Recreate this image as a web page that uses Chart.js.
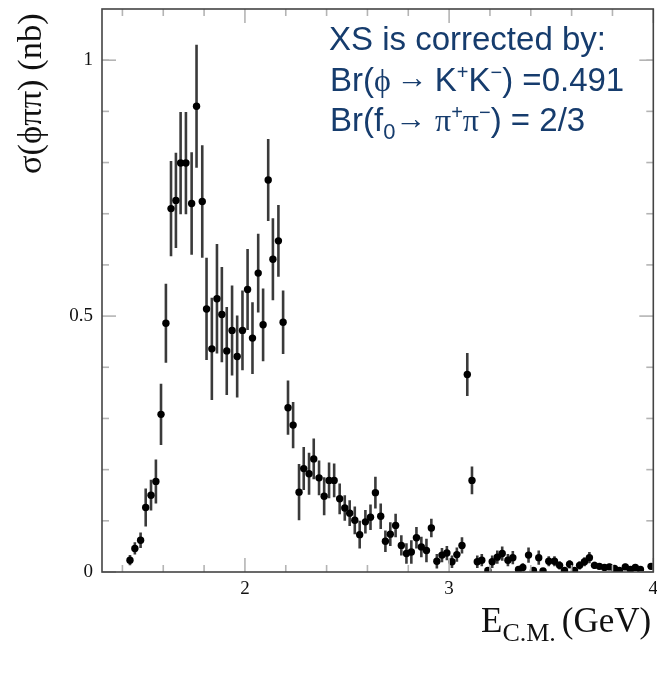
<!DOCTYPE html>
<html>
<head>
<meta charset="utf-8">
<script src="https://cdn.jsdelivr.net/npm/chart.js@4.4.1/dist/chart.umd.min.js"></script>
<style>
  html, body { margin: 0; padding: 0; background: #fff; }
  #wrap { width: 657px; height: 683px; }
</style>
</head>
<body>
<div id="wrap"><canvas id="c" width="657" height="683"></canvas></div>
<script>
// ---- data ----
const energy = [1.437,1.461,1.489,1.514,1.540,1.564,1.589,1.613,1.638,1.662,1.685,1.711,1.739,1.763,1.791,1.812,1.838,1.863,1.887,1.911,1.937,1.962,1.988,2.013,2.037,2.065,2.089,2.114,2.137,2.164,2.187,2.211,2.236,2.265,2.288,2.314,2.337,2.363,2.388,2.412,2.437,2.464,2.489,2.513,2.538,2.562,2.590,2.615,2.639,2.665,2.688,2.712,2.738,2.766,2.791,2.815,2.840,2.864,2.889,2.913,2.940,2.965,2.989,3.014,3.038,3.063,3.089,3.112,3.138,3.160,3.190,3.211,3.236,3.260,3.288,3.312,3.340,3.361,3.389,3.413,3.439,3.460,3.488,3.516,3.541,3.565,3.590,3.614,3.639,3.663,3.687,3.712,3.736,3.761,3.785,3.810,3.834,3.863,3.888,3.912,3.937,3.989];
const sigma = [0.023,0.046,0.062,0.126,0.150,0.177,0.308,0.486,0.710,0.726,0.799,0.799,0.720,0.910,0.724,0.514,0.436,0.534,0.503,0.432,0.472,0.421,0.472,0.552,0.457,0.584,0.483,0.766,0.611,0.647,0.488,0.321,0.287,0.156,0.202,0.192,0.221,0.184,0.148,0.179,0.179,0.143,0.125,0.115,0.101,0.073,0.098,0.107,0.155,0.109,0.060,0.074,0.091,0.052,0.036,0.039,0.067,0.049,0.042,0.086,0.021,0.033,0.037,0.020,0.034,0.052,0.386,0.179,0.020,0.023,0.003,0.020,0.029,0.036,0.023,0.028,0.005,0.009,0.033,0.003,0.028,0.002,0.021,0.021,0.013,0.003,0.015,0.003,0.013,0.020,0.028,0.013,0.011,0.009,0.010,0.007,0.003,0.010,0.005,0.009,0.005,0.011];
const sigmaErr = [0.010,0.012,0.015,0.037,0.030,0.043,0.060,0.077,0.093,0.093,0.100,0.100,0.100,0.120,0.110,0.100,0.100,0.107,0.093,0.086,0.088,0.080,0.078,0.079,0.070,0.077,0.071,0.080,0.080,0.070,0.062,0.053,0.045,0.055,0.042,0.041,0.040,0.034,0.037,0.035,0.033,0.030,0.025,0.025,0.027,0.027,0.023,0.025,0.031,0.025,0.021,0.023,0.023,0.020,0.020,0.023,0.021,0.020,0.023,0.018,0.014,0.014,0.014,0.012,0.014,0.016,0.042,0.027,0.012,0.012,0.006,0.012,0.013,0.014,0.012,0.013,0.006,0.008,0.015,0.006,0.014,0.005,0.010,0.010,0.008,0.005,0.008,0.005,0.008,0.009,0.011,0.007,0.006,0.006,0.006,0.005,0.004,0.006,0.004,0.005,0.004,0.006];

const xMajorTicks = [2, 3, 4];
const xTickLabels = ['2', '3', '4'];
const xMinorTicks = [1.4, 1.6, 1.8, 2.2, 2.4, 2.6, 2.8, 3.2, 3.4, 3.6, 3.8];
const yMajorTicks = [0, 0.5, 1];
const yTickLabels = ['0', '0.5', '1'];
const yMinorTicks = [0.1, 0.2, 0.3, 0.4, 0.6, 0.7, 0.8, 0.9, 1.0];

const noteLine1 = 'XS is corrected by:';
const yTitle = 'σ(ϕππ) (nb)';

// ---- drawing plugin: frame, inward ticks, error bars, texts ----
const SANS = '"Liberation Sans", Arial, sans-serif';
const SERIF = '"Liberation Serif", "Times New Roman", serif';
const NAVY = '#163c6d';

function drawRich(ctx, x, y, segs) {
  let cx = x;
  segs.forEach(s => {
    ctx.font = s.font;
    ctx.fillStyle = s.color || NAVY;
    ctx.fillText(s.t, cx, y + (s.dy || 0));
    cx += ctx.measureText(s.t).width + (s.kern || 0);
  });
}

const figPlugin = {
  id: 'fig',
  beforeDatasetsDraw(chart) {
    const { ctx, chartArea: a, scales: { x, y } } = chart;
    ctx.save();
    ctx.beginPath();
    ctx.rect(a.left, a.top, a.right - a.left, a.bottom - a.top);
    ctx.clip();
    ctx.strokeStyle = '#3a3a3a';
    ctx.lineWidth = 2.6;
    energy.forEach((e, i) => {
      const px = x.getPixelForValue(e);
      ctx.beginPath();
      ctx.moveTo(px, y.getPixelForValue(sigma[i] - sigmaErr[i]));
      ctx.lineTo(px, y.getPixelForValue(sigma[i] + sigmaErr[i]));
      ctx.stroke();
    });
    ctx.restore();
  },
  afterDraw(chart) {
    const { ctx, chartArea: a, scales: { x, y } } = chart;
    ctx.save();
    // ticks (inside, all four sides)
    ctx.strokeStyle = '#b4b4b4';
    ctx.lineWidth = 1.6;
    const tick = (x1, y1, x2, y2) => { ctx.beginPath(); ctx.moveTo(x1, y1); ctx.lineTo(x2, y2); ctx.stroke(); };
    xMajorTicks.forEach(v => { const p = x.getPixelForValue(v); tick(p, a.bottom, p, a.bottom - 14); tick(p, a.top, p, a.top + 14); });
    xMinorTicks.forEach(v => { const p = x.getPixelForValue(v); tick(p, a.bottom, p, a.bottom - 7); tick(p, a.top, p, a.top + 7); });
    yMajorTicks.forEach(v => { const p = y.getPixelForValue(v); tick(a.left, p, a.left + 14, p); tick(a.right, p, a.right - 14, p); });
    yMinorTicks.forEach(v => { const p = y.getPixelForValue(v); tick(a.left, p, a.left + 7, p); tick(a.right, p, a.right - 7, p); });
    // frame
    ctx.strokeStyle = '#444';
    ctx.lineWidth = 1.6;
    ctx.strokeRect(a.left, a.top, a.right - a.left, a.bottom - a.top);

    // y title (rotated)
    ctx.save();
    ctx.translate(41, 174);
    ctx.rotate(-Math.PI / 2);
    ctx.font = '34.5px ' + SERIF;
    ctx.fillStyle = '#111';
    ctx.textBaseline = 'alphabetic';
    ctx.textAlign = 'left';
    ctx.fillText(yTitle, 0, 0);
    ctx.restore();

    // x title with subscript
    ctx.textBaseline = 'alphabetic';
    ctx.textAlign = 'left';
    drawRich(ctx, 481, 632, [
      { t: 'E', font: '35px ' + SERIF, color: '#111' },
      { t: 'C.M.', font: '26px ' + SERIF, color: '#111', dy: 9, kern: 6 },
      { t: '(GeV)', font: '35px ' + SERIF, color: '#111' }
    ]);

    // annotation
    drawRich(ctx, 329, 50, [{ t: noteLine1, font: '33px ' + SANS }]);
    drawRich(ctx, 330, 91, [
      { t: 'Br(', font: '33px ' + SANS },
      { t: 'ϕ', font: '32px ' + SERIF, kern: 6 },
      { t: '→', font: '31px ' + SERIF, dy: -3, kern: 7 },
      { t: 'K', font: '33px ' + SANS },
      { t: '+', font: '20px ' + SANS, dy: -12 },
      { t: 'K', font: '33px ' + SANS },
      { t: '−', font: '20px ' + SANS, dy: -12 },
      { t: ') =0.491', font: '33px ' + SANS }
    ]);
    drawRich(ctx, 330, 131, [
      { t: 'Br(f', font: '33px ' + SANS },
      { t: '0', font: '22px ' + SANS, dy: 8 },
      { t: '→ ', font: '31px ' + SANS, dy: -2 },
      { t: 'π', font: '32px ' + SERIF },
      { t: '+', font: '20px ' + SANS, dy: -12 },
      { t: 'π', font: '32px ' + SERIF },
      { t: '−', font: '20px ' + SANS, dy: -12 },
      { t: ') = 2/3', font: '33px ' + SANS }
    ]);
    ctx.restore();
  }
};

new Chart(document.getElementById('c'), {
  type: 'scatter',
  data: {
    datasets: [{
      data: energy.map((e, i) => ({ x: e, y: sigma[i] })),
      pointRadius: 3.7,
      pointHoverRadius: 3.7,
      backgroundColor: '#000',
      borderWidth: 0
    }]
  },
  options: {
    responsive: false,
    animation: false,
    events: [],
    layout: { padding: { top: 9, right: 3, left: 0, bottom: 0 } },
    plugins: { legend: { display: false }, tooltip: { enabled: false } },
    scales: {
      x: {
        type: 'linear', min: 1.3, max: 4,
        grid: { display: false, drawTicks: false },
        border: { display: false },
        afterBuildTicks: s => { s.ticks = xMajorTicks.map(v => ({ value: v })); },
        afterFit: s => { s.height = 111; s.paddingLeft = 0; s.paddingRight = 0; },
        ticks: {
          padding: 6, maxRotation: 0, autoSkip: false,
          color: '#111', font: { family: SERIF, size: 19 },
          callback: v => xTickLabels[xMajorTicks.indexOf(v)]
        }
      },
      y: {
        type: 'linear', min: 0, max: 1.1,
        grid: { display: false, drawTicks: false },
        border: { display: false },
        afterBuildTicks: s => { s.ticks = yMajorTicks.map(v => ({ value: v })); },
        afterFit: s => { s.width = 102; s.paddingTop = 0; s.paddingBottom = 0; },
        ticks: {
          padding: 9, autoSkip: false,
          color: '#111', font: { family: SERIF, size: 19 },
          callback: v => yTickLabels[yMajorTicks.indexOf(v)]
        }
      }
    }
  },
  plugins: [figPlugin]
});
</script>
</body>
</html>
